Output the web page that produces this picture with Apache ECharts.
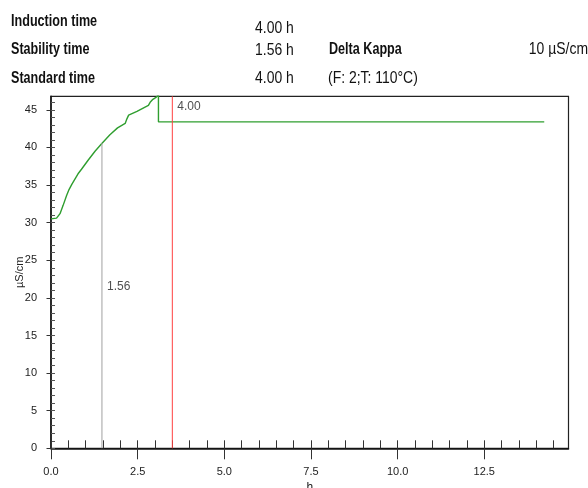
<!DOCTYPE html>
<html>
<head>
<meta charset="utf-8">
<script src="https://cdn.jsdelivr.net/npm/echarts@6/dist/echarts.min.js"></script>
<style>
  html, body { margin: 0; padding: 0; background: #fff; }
  #main { width: 588px; height: 488px; }
</style>
</head>
<body>
<div id="main"></div>
<script>
// conductivity curve (h, µS/cm)
var timeH = [0, 0.16, 0.26, 0.35, 0.45, 0.52, 0.60, 0.69, 0.78, 0.88, 1.07, 1.27, 1.46, 1.70, 1.92, 2.14, 2.16, 2.19, 2.24, 2.48, 2.81, 2.84, 2.86, 2.94, 3.04, 3.10, 3.10, 14.23];
var kappa = [30.5, 30.6, 31.2, 32.3, 33.6, 34.4, 35.1, 35.8, 36.5, 37.1, 38.3, 39.5, 40.5, 41.7, 42.6, 43.2, 43.4, 43.8, 44.3, 44.8, 45.6, 45.7, 46.0, 46.4, 46.7, 47.0, 43.4, 43.4];

var stabilityX = 1.47, stabilityY = 40.6, stabilityLabel = '1.56';
var inductionX = 3.5, inductionLabel = '4.00';

var xMajorTicks = [0, 2.5, 5.0, 7.5, 10.0, 12.5];
var yMajorTicks = [0, 5, 10, 15, 20, 25, 30, 35, 40, 45];

var headerLabels = ['Induction time', 'Stability time', 'Standard time'];
var headerValues = ['4.00 h', '1.56 h', '4.00 h'];
var headerExtra = [['Delta Kappa', '10 µS/cm'], ['(F: 2;T: 110°C)', '']];

var xMinorTicks = [];
for (var i = 0; i <= 29; i++) xMinorTicks.push(i * 0.5);
var yMinorTicks = [];
for (var j = 0; j <= 46; j++) yMinorTicks.push(j);

var font = '"Liberation Sans", Arial, sans-serif';

function txt(s, x, y, bold, align) {
    return {
        type: 'text', x: x, y: y,
        scaleX: bold ? 0.84 : 0.93, scaleY: 1.06,
        style: {text: s, font: (bold ? 'bold ' : '') + '15px ' + font, fill: '#111',
            align: align || 'left', verticalAlign: 'middle'}
    };
}

var graphics = [];
var labelY = [21.7, 49.2, 78.3];
var valueY = [28.5, 51, 78.7];
headerLabels.forEach(function (s, k) {
    graphics.push(txt(s, 11, labelY[k], true));
    graphics.push(txt(headerValues[k], 255, valueY[k], false));
});
graphics.push(txt(headerExtra[0][0], 329, 49.2, true));
graphics.push(txt(headerExtra[0][1], 588, 49.5, false, 'right'));
graphics.push(txt(headerExtra[1][0], 328, 78.3, false));

var myChart = echarts.init(document.getElementById('main'));
var option = {
    animation: false,
    graphic: graphics,
    grid: {left: 51, right: 19.5, top: 96.3, bottom: 39.7, outerBoundsMode: 'none', containLabel: false,
        show: true, borderColor: '#222', borderWidth: 1.2},
    xAxis: [{
        type: 'value', min: 0, max: 14.93,
        name: 'h', nameLocation: 'middle', nameGap: 33, nameMoveOverlap: false,
        nameTextStyle: {color: '#222', fontFamily: font, fontSize: 12},
        axisLine: {lineStyle: {color: '#111', width: 1.5}},
        axisTick: {customValues: xMajorTicks, length: 11, lineStyle: {color: '#333'}},
        axisLabel: {customValues: xMajorTicks, color: '#222', fontFamily: font, fontSize: 11, margin: 18,
            formatter: function (v) { return v.toFixed(1); }},
        splitLine: {show: false}
    }, {
        type: 'value', min: 0, max: 14.93, position: 'bottom',
        axisLine: {show: false},
        axisTick: {customValues: xMinorTicks, inside: true, length: 8, lineStyle: {color: '#333'}},
        axisLabel: {show: false},
        splitLine: {show: false}
    }],
    yAxis: [{
        type: 'value', min: 0, max: 46.8,
        name: 'µS/cm', nameLocation: 'middle', nameGap: 26, nameMoveOverlap: false,
        nameTextStyle: {color: '#222', fontFamily: font, fontSize: 11},
        axisLine: {show: true, lineStyle: {color: '#111', width: 1.5}},
        axisTick: {customValues: yMajorTicks, length: 4.5, lineStyle: {color: '#333'}},
        axisLabel: {customValues: yMajorTicks, color: '#222', fontFamily: font, fontSize: 11, margin: 14},
        splitLine: {show: false}
    }, {
        type: 'value', min: 0, max: 46.8, position: 'left',
        axisLine: {show: false},
        axisTick: {customValues: yMinorTicks, inside: true, length: 4, lineStyle: {color: '#555'}},
        axisLabel: {show: false},
        splitLine: {show: false}
    }],
    series: [{
        type: 'line',
        data: timeH.map(function (t, k) { return [t, kappa[k]]; }),
        symbol: 'none',
        lineStyle: {color: '#2f9e2f', width: 1.4},
        z: 3
    }, {
        type: 'line',
        data: [[stabilityX, 0], [stabilityX, stabilityY]],
        symbol: 'none',
        lineStyle: {color: '#a0a0a0', width: 1}
    }, {
        type: 'line',
        data: [[inductionX, 0], [inductionX, 46.8]],
        symbol: 'none',
        lineStyle: {color: '#ff4040', width: 1}
    }, {
        type: 'scatter',
        data: [[stabilityX, 21.45], [inductionX, 45.4]],
        symbolSize: 0,
        label: {show: true, position: 'right', distance: 5, color: '#222', fontFamily: font, fontSize: 12,
            formatter: function (p) { return p.dataIndex == 0 ? stabilityLabel : inductionLabel; }}
    }]
};
myChart.setOption(option);
</script>
</body>
</html>
